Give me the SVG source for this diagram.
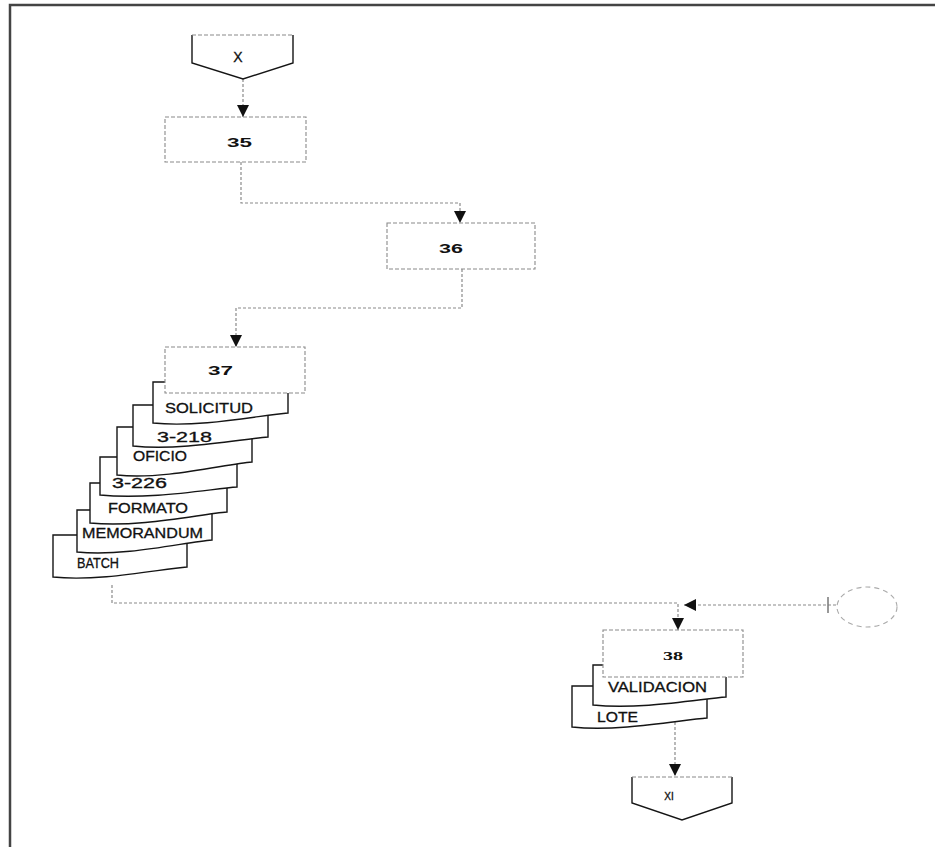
<svg xmlns="http://www.w3.org/2000/svg" width="935" height="847" viewBox="0 0 935 847">
<style>
.frame{fill:none;stroke:#444;stroke-width:2.5}
.conn{fill:none;stroke:#8a8a8a;stroke-width:1.2;stroke-dasharray:3 2}
.box{fill:#fff;stroke:#8a8a8a;stroke-width:1.1;stroke-dasharray:4 2}
.doc{fill:#fff;stroke:#151515;stroke-width:1.4}
.pent{fill:#fff;stroke:#151515;stroke-width:1.4}
.ptop{fill:none;stroke:#8a8a8a;stroke-width:1.1;stroke-dasharray:4 2}
.lbl{font-family:"Liberation Sans",Arial,sans-serif;font-size:14px;fill:#111;stroke:#111;stroke-width:0.3}
.num{font-family:"Liberation Sans",Arial,sans-serif;font-size:12px;font-weight:bold;fill:#111}
.numserif{font-family:"Liberation Serif","Times New Roman",serif;font-size:13px;font-weight:bold;fill:#111}
.circ{fill:none;stroke:#aaa;stroke-width:1.1;stroke-dasharray:5 4}
.ptxt{font-family:"Liberation Sans",Arial,sans-serif;fill:#111;stroke:#111;stroke-width:0.3}
</style>
<defs>
<marker id="arr" markerUnits="userSpaceOnUse" markerWidth="12" markerHeight="12" viewBox="0 0 12 12" refX="12" refY="6" orient="auto">
<path d="M0,0 L12,6 L0,12 Z" fill="#111"/>
</marker>
</defs>
<rect width="935" height="847" fill="#fff"/>
<path class="frame" d="M10,847 V5 H935"/>

<g id="connectors">
<path class="conn" d="M243,79 V117" marker-end="url(#arr)"/>
<path class="conn" d="M241,162 V203 H460 V223" marker-end="url(#arr)"/>
<path class="conn" d="M462,269 V308 H236 V347" marker-end="url(#arr)"/>
<path class="conn" d="M112,585 V603 H678 V630" marker-end="url(#arr)"/>
<path class="conn" d="M836,605 H684" marker-end="url(#arr)"/>
<line x1="828" y1="597" x2="828" y2="613" stroke="#777" stroke-width="1.5"/>
<path class="conn" d="M675,712 V776" marker-end="url(#arr)"/>
</g>

<g id="conn-X">
<path class="pent" d="M192,35 V63 L243,79 L293,63 V35"/>
<path class="ptop" d="M192,35 H293"/>
<text class="ptxt" x="238" y="62" text-anchor="middle" font-size="14">X</text>
</g>

<g id="n35">
<rect class="box" x="165" y="117" width="141" height="45"/>
<text class="num" x="227" y="147" textLength="25" lengthAdjust="spacingAndGlyphs">35</text>
</g>

<g id="n36">
<rect class="box" x="387" y="223" width="148" height="46"/>
<text class="num" x="439" y="253" textLength="24" lengthAdjust="spacingAndGlyphs">36</text>
</g>

<g id="docs37">
<g id="doc-batch">
<path class="doc" d="M53,577 V535 H187 V567 C160,569 100,582 53,577 Z"/>
<text class="lbl" x="77" y="568" textLength="42" lengthAdjust="spacingAndGlyphs">BATCH</text>
</g>
<g id="doc-memorandum">
<path class="doc" d="M77,552 V510 H212 V540 C185,542 125,557 77,552 Z"/>
<text class="lbl" x="82" y="538" textLength="121" lengthAdjust="spacingAndGlyphs">MEMORANDUM</text>
</g>
<g id="doc-formato">
<path class="doc" d="M90,523 V483 H227 V512 C200,514 140,528 90,523 Z"/>
<text class="lbl" x="108" y="513" textLength="80" lengthAdjust="spacingAndGlyphs">FORMATO</text>
</g>
<g id="doc-3-226">
<path class="doc" d="M100,495 V457 H237 V487 C210,489 150,500 100,495 Z"/>
<text class="lbl" x="112" y="488" textLength="55" lengthAdjust="spacingAndGlyphs">3-226</text>
</g>
<g id="doc-oficio">
<path class="doc" d="M117,475 V427 H252 V462 C225,464 165,480 117,475 Z"/>
<text class="lbl" x="133" y="461" textLength="54" lengthAdjust="spacingAndGlyphs">OFICIO</text>
</g>
<g id="doc-3-218">
<path class="doc" d="M133,446 V405 H268 V437 C241,439 181,451 133,446 Z"/>
<text class="lbl" x="157" y="442" textLength="55" lengthAdjust="spacingAndGlyphs">3-218</text>
</g>
<g id="doc-solicitud">
<path class="doc" d="M153,423 V382 H288 V413 C261,415 201,428 153,423 Z"/>
<text class="lbl" x="165" y="413" textLength="88" lengthAdjust="spacingAndGlyphs">SOLICITUD</text>
</g>
</g>

<g id="n37">
<rect class="box" x="165" y="347" width="140" height="46"/>
<text class="num" x="208" y="375" textLength="25" lengthAdjust="spacingAndGlyphs">37</text>
</g>

<g id="docs38">
<g id="doc-lote">
<path class="doc" d="M572,727 V686 H707 V718 C680,720 620,732 572,727 Z"/>
<text class="lbl" x="597" y="722" textLength="41" lengthAdjust="spacingAndGlyphs">LOTE</text>
</g>
<g id="doc-validacion">
<path class="doc" d="M593,705 V665 H726 V697 C700,699 640,710 593,705 Z"/>
<text class="lbl" x="608" y="692" textLength="99" lengthAdjust="spacingAndGlyphs">VALIDACION</text>
</g>
</g>

<g id="n38">
<rect class="box" x="603" y="630" width="140" height="47"/>
<text class="numserif" x="663" y="660" textLength="20" lengthAdjust="spacingAndGlyphs">38</text>
</g>

<g id="circle-connector">
<ellipse class="circ" cx="867" cy="607" rx="30" ry="20"/>
</g>

<g id="conn-XI">
<path class="pent" d="M632,777 V803 L682,820 L732,803 V777"/>
<path class="ptop" d="M632,777 H732"/>
<text class="ptxt" x="669" y="800" text-anchor="middle" font-size="10" stroke-width="0.2">XI</text>
</g>
</svg>
